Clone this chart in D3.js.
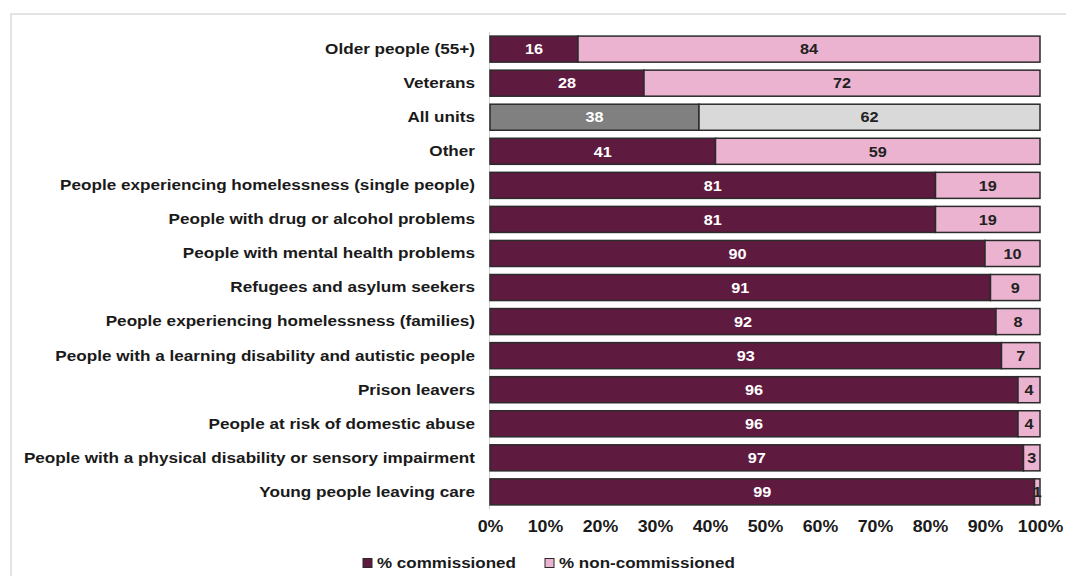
<!DOCTYPE html>
<html>
<head>
<meta charset="utf-8">
<script src="https://cdn.jsdelivr.net/npm/d3@7"></script>
<style>
  html, body { margin: 0; padding: 0; background: #fff; }
  svg { display: block; }
  text { font-family: "Liberation Sans", Arial, sans-serif; font-weight: bold; }
</style>
</head>
<body>
<svg id="chart" width="1066" height="576"></svg>
<script>
// Client groups, top to bottom
const categories = [
  "Older people (55+)",
  "Veterans",
  "All units",
  "Other",
  "People experiencing homelessness (single people)",
  "People with drug or alcohol problems",
  "People with mental health problems",
  "Refugees and asylum seekers",
  "People experiencing homelessness (families)",
  "People with a learning disability and autistic people",
  "Prison leavers",
  "People at risk of domestic abuse",
  "People with a physical disability or sensory impairment",
  "Young people leaving care"
];
const commissioned    = [16, 28, 38, 41, 81, 81, 90, 91, 92, 93, 96, 96, 97, 99];
const nonCommissioned = [84, 72, 62, 59, 19, 19, 10,  9,  8,  7,  4,  4,  3,  1];
const tickValues = [0, 10, 20, 30, 40, 50, 60, 70, 80, 90, 100];
const seriesNames = ["% commissioned", "% non-commissioned"];
const highlight = "All units";

const colors = {
  commissioned: "#5f1a3f",
  nonCommissioned: "#ecb3d1",
  allCommissioned: "#808080",
  allNon: "#d9d9d9"
};

// the text face is drawn slightly widened
const stretch = 1.12;

const svg = d3.select("#chart");

// outer frame
svg.append("path")
  .attr("d", "M11,577 V14 H1067")
  .attr("fill", "none")
  .attr("stroke", "#dcdcdc")
  .attr("stroke-width", 1.5);

const x = d3.scaleLinear().domain([0, 100]).range([490, 1040]);
const y = d3.scaleBand().domain(categories).range([32, 509]).paddingInner(0.235).paddingOuter(0.12);

// category axis line
svg.append("line")
  .attr("x1", 489.5).attr("x2", 489.5)
  .attr("y1", 32).attr("y2", 509)
  .attr("stroke", "#d0d0d0").attr("stroke-width", 1);

const rows = categories.map((c, i) => ({
  cat: c, com: commissioned[i], non: nonCommissioned[i]
}));

const g = svg.append("g");

function stretchedText(parent, px, py, str, size, fill, anchor) {
  return parent.append("text")
    .attr("transform", `translate(${px},${py}) scale(${stretch},1)`)
    .attr("dy", "0.36em").attr("text-anchor", anchor)
    .attr("font-size", size).attr("fill", fill)
    .text(str);
}

rows.forEach(r => {
  const isAll = r.cat === highlight;
  const yy = y(r.cat), h = y.bandwidth();
  // commissioned segment
  g.append("rect")
    .attr("x", x(0)).attr("y", yy)
    .attr("width", x(r.com) - x(0)).attr("height", h)
    .attr("fill", isAll ? colors.allCommissioned : colors.commissioned)
    .attr("stroke", "#2b2b2b").attr("stroke-width", 1.5);
  // non-commissioned segment
  g.append("rect")
    .attr("x", x(r.com)).attr("y", yy)
    .attr("width", x(r.com + r.non) - x(r.com)).attr("height", h)
    .attr("fill", isAll ? colors.allNon : colors.nonCommissioned)
    .attr("stroke", "#2b2b2b").attr("stroke-width", 1.5);
  // value labels
  stretchedText(g, (x(0) + x(r.com)) / 2, yy + h / 2, r.com, 14.5, "#fff", "middle");
  stretchedText(g, (x(r.com) + x(r.com + r.non)) / 2, yy + h / 2, r.non, 14.5, "#222", "middle");
});

// category labels
const yAxis = d3.axisLeft(y).tickSize(0).tickPadding(15);
const ya = svg.append("g").attr("transform", "translate(490,0)").call(yAxis);
ya.select(".domain").remove();
ya.selectAll("text")
  .attr("x", -15 / stretch)
  .attr("transform", `scale(${stretch},1)`)
  .attr("font-size", 15.3).attr("fill", "#1a1a1a")
  .style("font-family", "'Liberation Sans', Arial, sans-serif").style("font-weight", "bold");

// percentage axis
const xAxis = d3.axisBottom(x).tickValues(tickValues).tickSize(0).tickPadding(0)
  .tickFormat(d => d + "%");
const xa = svg.append("g").attr("transform", "translate(0,521)").call(xAxis);
xa.select(".domain").remove();
xa.selectAll("text")
  .attr("transform", "scale(1.14,1)")
  .attr("font-size", 15.6).attr("fill", "#1a1a1a")
  .style("font-family", "'Liberation Sans', Arial, sans-serif").style("font-weight", "bold");

// legend
const legend = svg.append("g").attr("transform", "translate(363,563)");
const legendItems = [
  { name: seriesNames[0], color: colors.commissioned, x: 0 },
  { name: seriesNames[1], color: colors.nonCommissioned, x: 182 }
];
legendItems.forEach(it => {
  legend.append("rect")
    .attr("x", it.x).attr("y", -4.5).attr("width", 9).attr("height", 9)
    .attr("fill", it.color).attr("stroke", "#2b2b2b").attr("stroke-width", 1);
  stretchedText(legend, it.x + 14, 0, it.name, 15.2, "#1a1a1a", "start");
});
</script>
</body>
</html>
